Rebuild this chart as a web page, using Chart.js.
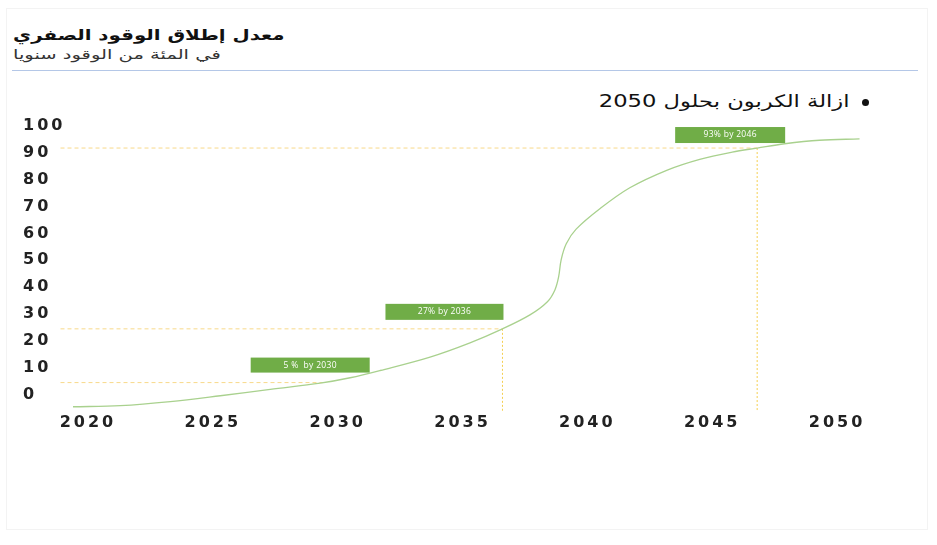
<!DOCTYPE html>
<html>
<head>
<meta charset="utf-8">
<script src="https://cdn.jsdelivr.net/npm/chart.js@4.4.1/dist/chart.umd.min.js"></script>
<style>
  body { margin: 0; background: #fff; width: 937px; height: 545px; position: relative; overflow: hidden; font-family: "DejaVu Sans", sans-serif; }
  #frame { position: absolute; left: 6px; top: 8px; width: 920px; height: 520px; border: 1px solid #f3f3f3; }
  #title { position: absolute; left: 13px; top: 25px; font-size: 15px; font-weight: bold; color: #111; line-height: 20px; transform: scaleX(1.32); transform-origin: left center; }
  #subtitle { position: absolute; left: 13px; top: 46px; font-size: 13px; color: #333; line-height: 18px; transform: scaleX(1.5); transform-origin: left center; }
  #sep { position: absolute; left: 12px; top: 70px; width: 906px; height: 1px; background: #b4c7e7; }
  #legend { position: absolute; right: 87px; top: 89px; font-size: 17px; color: #111; line-height: 24px; white-space: nowrap; transform: scaleX(1.33); transform-origin: right center; }
  #dot { position: absolute; left: 862px; top: 99px; width: 7px; height: 7px; border-radius: 50%; background: #111; }
  #wrap { position: absolute; left: 0; top: 112px; width: 937px; height: 330px; }
</style>
</head>
<body>
<div id="frame"></div>
<div id="title" dir="rtl">معدل إطلاق الوقود الصفري</div>
<div id="subtitle" dir="rtl">في المئة من الوقود سنويا</div>
<div id="sep"></div>
<div id="dot"></div>
<div id="legend" dir="rtl">ازالة الكربون بحلول 2050</div>
<div id="wrap"><canvas id="chartCanvas"></canvas></div>
<script>
var seriesLabel = 'ازالة الكربون بحلول 2050';
var years = [2019.4, 2021.3, 2023.3, 2025.3, 2027.3, 2029.3, 2030.5, 2031.7, 2033.7, 2035.3,
             2036.6, 2037.7, 2038.4, 2038.7, 2038.85, 2038.95, 2039.15, 2039.55, 2040.5, 2041.7,
             2043.2, 2044.5, 2045.8, 2046.8, 2047.9, 2049.3, 2050.9];
var rates = [-4.5, -4.1, -2.6, -0.4, 2.0, 4.3, 6.3, 9.0, 14.0, 19.3,
             24.5, 29.7, 34.6, 39.0, 43.9, 50.2, 56.1, 61.6, 69.2, 77.0,
             83.6, 87.6, 90.3, 91.8, 93.4, 94.7, 95.2];
var xTicks = [2020, 2025, 2030, 2035, 2040, 2045, 2050];
var yTicks = [0, 10, 20, 30, 40, 50, 60, 70, 80, 90, 100];

// milestones: where the dashed guides meet the curve
var markYears = [2029.4, 2036.6, 2046.8];
var markValues = [4.5, 24.5, 91.8];
var markLabels = ['5 %  by 2030', '27% by 2036', '93% by 2046'];
var markVertical = [false, true, true];
var guideStartYear = 2018.9;

// box placement relative to the milestone point (pixels)
var boxStyle = [
  {dx: -72, dy: -25, w: 119, h: 15},
  {dx: -117, dy: -25, w: 118, h: 16},
  {dx: -82, dy: -21, w: 110, h: 16}
];

var points = [];
for (var i = 0; i < years.length; i++) points.push({x: years[i], y: rates[i]});

var spacing = {
  id: 'spacing',
  beforeDraw: function(chart){ chart.ctx.letterSpacing = '3px'; }
};

var guides = {
  id: 'guides',
  beforeDatasetsDraw: function(chart){
    var ctx = chart.ctx, xs = chart.scales.x, ys = chart.scales.y, area = chart.chartArea;
    var x0 = xs.getPixelForValue(guideStartYear);
    ctx.save();
    ctx.lineWidth = 1;
    for (var i = 0; i < markYears.length; i++){
      var px = xs.getPixelForValue(markYears[i]);
      var py = ys.getPixelForValue(markValues[i]);
      ctx.strokeStyle = '#f8d98a';
      ctx.setLineDash([4, 3]);
      ctx.beginPath();
      ctx.moveTo(x0, py);
      ctx.lineTo(px, py);
      ctx.stroke();
      if (markVertical[i]){
        ctx.strokeStyle = '#f5cf50';
        ctx.setLineDash([2, 2]);
        ctx.beginPath();
        ctx.moveTo(px, py);
        ctx.lineTo(px, area.bottom);
        ctx.stroke();
      }
    }
    ctx.restore();
  },
  afterDatasetsDraw: function(chart){
    var ctx = chart.ctx, xs = chart.scales.x, ys = chart.scales.y;
    ctx.save();
    ctx.letterSpacing = '0.3px';
    for (var i = 0; i < markYears.length; i++){
      var px = xs.getPixelForValue(markYears[i]);
      var py = ys.getPixelForValue(markValues[i]);
      var b = boxStyle[i];
      var bx = px + b.dx, by = py + b.dy;
      ctx.fillStyle = '#70ad47';
      ctx.fillRect(bx, by, b.w, b.h);
      ctx.fillStyle = '#ffffff';
      ctx.font = '8.5px "Open Sans"';
      ctx.textAlign = 'center';
      ctx.textBaseline = 'middle';
      ctx.fillText(markLabels[i], bx + b.w / 2, by + b.h / 2);
    }
    ctx.restore();
  }
};

var ctx = document.getElementById('chartCanvas').getContext('2d');
var myChart = new Chart(ctx, {
  type: 'line',
  data: {
    datasets: [{
      label: seriesLabel,
      data: points,
      borderColor: '#a9d18e',
      borderWidth: 1.3,
      pointRadius: 0,
      fill: false,
      tension: 0.35
    }]
  },
  options: {
    responsive: true,
    maintainAspectRatio: false,
    animation: false,
    layout: { padding: { left: 23, right: 50, top: 14, bottom: 8 } },
    plugins: { legend: { display: false }, tooltip: { enabled: false } },
    scales: {
      x: {
        type: 'linear',
        min: 2019.2,
        max: 2052,
        grid: { display: false, drawTicks: false },
        border: { display: false },
        afterBuildTicks: function(axis){ axis.ticks = xTicks.map(function(v){ return {value: v}; }); },
        ticks: {
          padding: 2,
          color: '#222',
          font: { family: 'DejaVu Sans', size: 16, weight: 'bold' },
          callback: function(v){ return String(v); }
        }
      },
      y: {
        min: -6,
        max: 100,
        grid: { display: false, drawTicks: false },
        border: { display: false },
        afterBuildTicks: function(axis){ axis.ticks = yTicks.map(function(v){ return {value: v}; }); },
        afterFit: function(axis){ axis.width = 45; },
        ticks: {
          crossAlign: 'far',
          color: '#222',
          font: { family: 'DejaVu Sans', size: 16, weight: 'bold' }
        }
      }
    }
  },
  plugins: [spacing, guides]
});
</script>
</body>
</html>
